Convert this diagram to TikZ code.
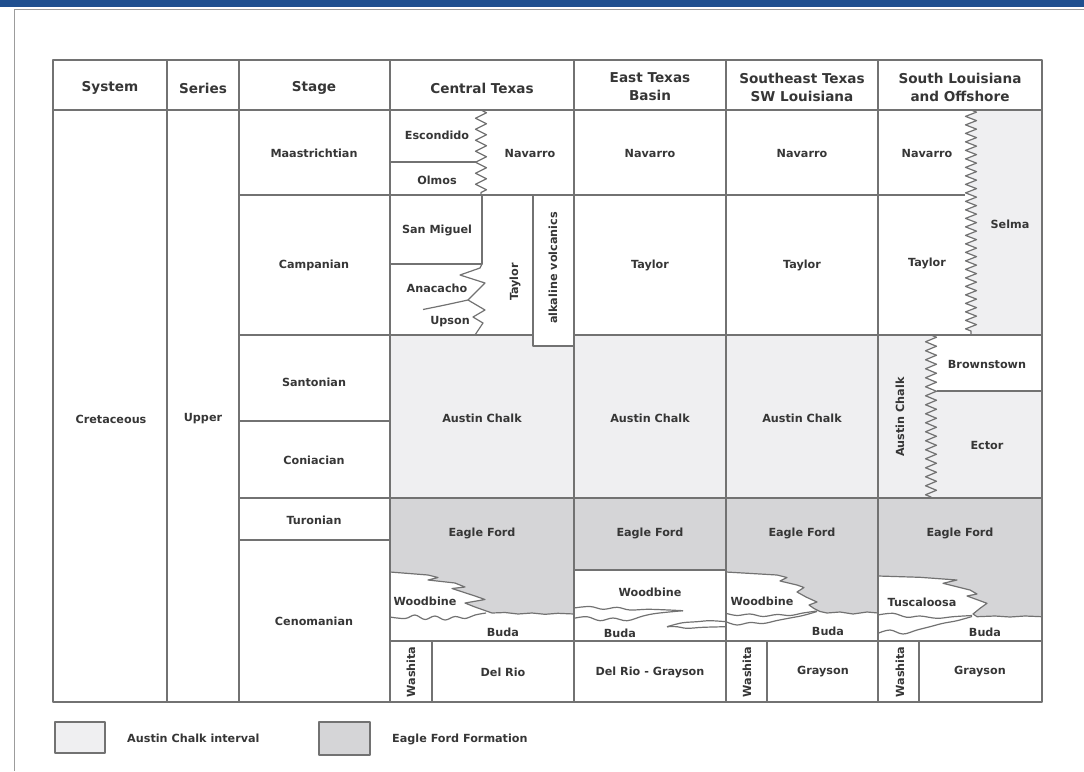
\documentclass[tikz,border=0pt]{standalone}
\usepackage{fontspec}
\setmainfont{DejaVu Sans}
\usetikzlibrary{decorations.pathmorphing}
\definecolor{chalk}{HTML}{EFEFF1}
\definecolor{eagle}{HTML}{D5D5D7}
\definecolor{rule}{HTML}{727272}
\definecolor{ink}{HTML}{363636}
\definecolor{banner}{HTML}{1F4F8F}
\newcommand\cellfont{\bfseries\fontsize{11.2}{13}\selectfont}
\newcommand\headfont{\bfseries\fontsize{13.6}{18}\selectfont}
\begin{document}
\begin{tikzpicture}[x=1pt,y=-1pt,
  rl/.style={draw=rule,line width=1.2pt,line join=round},
  zz/.style={decorate,decoration={zigzag,segment length=#1,amplitude=5.5}},
  zz/.default=10,
  lbl/.style={font=\cellfont,text=ink,inner sep=0pt},
  vlbl/.style={lbl,rotate=90},
  hdr/.style={font=\headfont,text=ink,align=center,inner sep=0pt}]
\useasboundingbox (0,0) rectangle (1084,771);
% page banner and frame
\fill[banner] (0,0) rectangle (1084,6.5);
\draw[rule!70,line width=1pt] (1084,9.5) -- (14,9.5) -- (14,771);

% Austin Chalk interval shading
\fill[chalk] (390,335) rectangle (1042,498);
\fill[white] (533,335) rectangle (574,346);
\fill[white] (1042,335) -- (931,335) decorate[decoration={zigzag,segment length=9,amplitude=5.5}]{-- (931,391)} -- (1042,391) -- cycle;
\fill[chalk] (1042,110) -- (971,110) decorate[decoration={zigzag,segment length=8.5,amplitude=6}]{-- (971,335)} -- (1042,335) -- cycle;

% Eagle Ford Formation shading
\draw[rl,fill=eagle] (574,498) -- (390,498) -- (390,572) -- (428,575) -- (438,577.5) -- (428,580) -- (455,583) -- (465,587) -- (452,588.5) -- (475,596) -- (485,599.5) -- (465,603) -- (475,607) -- (492,613) -- (505,612.5) -- (518,614) -- (532,613) -- (545,614.3) -- (558,613.3) -- (574,614) -- cycle;
\draw[rl,fill=eagle] (574,498) rectangle (726,570);
\draw[rl,fill=eagle] (878,498) -- (726,498) -- (726,572) -- (777,575) -- (787,577.5) -- (780,581) -- (797,585) -- (804,587.5) -- (797,592) -- (806,597) -- (817,602) -- (809,605) -- (814,608.5) -- (820,611.5) -- (827,613) -- (840,612) -- (853,614) -- (867,612) -- (878,613) -- cycle;
\draw[rl,fill=eagle] (1042,498) -- (878,498) -- (878,576) -- (920,577.3) -- (957,580) -- (943,583.3) -- (970,590) -- (977,594) -- (967,596) -- (987,603.3) -- (980,608.3) -- (973,614) -- (977,616.7) -- (995,616) -- (1010,617) -- (1025,616) -- (1042,616.7) -- cycle;

% unconformities below the Woodbine / Tuscaloosa
\draw[rl] plot[smooth,tension=0.6] coordinates {(390,617) (405,618.5) (415,615) (425,619.5) (435,616) (445,620) (455,616.5) (465,618.5) (475,615) (486,613)};
\draw[rl] plot[smooth,tension=0.6] coordinates {(574,608) (590,606.5) (603,609.3) (617,607.3) (630,610) (650,609.3) (683,610.7)};
\draw[rl] plot[smooth,tension=0.6] coordinates {(574,618.3) (587,616.7) (600,620.7) (613,618) (627,620.7) (643,616) (657,613.3) (683,610.7)};
\draw[rl] plot[smooth,tension=0.6] coordinates {(726,621.7) (710,620.7) (697,621.7) (683,622.7) (673,625) (667,626.7)};
\draw[rl] plot[smooth,tension=0.6] coordinates {(726,626.7) (703,627.3) (687,628.3) (677,626.7) (667,626.7)};
\draw[rl] plot[smooth,tension=0.6] coordinates {(726,613.3) (737,615.5) (750,614) (763,616.5) (777,614.5) (790,615.5) (803,613) (817,611)};
\draw[rl] plot[smooth,tension=0.6] coordinates {(726,621.7) (737,625) (750,622.5) (763,623.5) (777,620.5) (790,618) (803,615.5) (817,611.5)};
\draw[rl] plot[smooth,tension=0.6] coordinates {(878,615) (893,613.3) (907,617.3) (920,616) (937,618.3) (953,616.7) (972,615.5)};
\draw[rl] plot[smooth,tension=0.6] coordinates {(878,633.3) (890,630) (903,634) (917,630) (930,626.7) (943,623.3) (957,620.7) (972,616.5)};

% table grid
\draw[rl] (53,60) rectangle (1042,702);
\draw[rl] (53,110) -- (1042,110);
\foreach \x in {167,239,390,574,726,878} \draw[rl] (\x,60) -- (\x,702);
\foreach \y in {195,335,421,498,540} \draw[rl] (239,\y) -- (390,\y);
\draw[rl] (390,195) -- (965,195);
\draw[rl] (390,335) -- (533,335);
\draw[rl] (574,335) -- (1042,335);
\draw[rl] (390,498) -- (1042,498);
\draw[rl] (390,641) -- (1042,641);
\foreach \x in {432,767,919} \draw[rl] (\x,641) -- (\x,702);

% Central Texas internal contacts
\draw[rl] (390,162) -- (477,162);
\draw[rl] (482,195) -- (482,264) -- (390,264);
\draw[rl] (533,195) -- (533,346) -- (574,346);
\draw[rl,zz=11] (481,110) -- (481,195);
\draw[rl] (482,264) -- (480,268) -- (460,275) -- (485,283) -- (468,300) -- (485,310) -- (473,317) -- (483,323) -- (475,335);
\draw[rl] plot[smooth] coordinates {(423,309.5) (445,305) (468,300)};

% South Louisiana internal contacts
\draw[rl,zz=8.5] (971,110) -- (971,335);
\draw[rl,zz=9] (931,335) -- (931,498);
\draw[rl] (937,391) -- (1042,391);

% header
\node[hdr] (hSystem) at (110,88) {System};
\node[hdr] (hSeries) at (203,88) {Series};
\node[hdr] (hStage) at (314,88) {Stage};
\node[hdr] (hCT) at (482,88) {Central Texas};
\node[hdr] (hET) at (650,87) {East Texas\\Basin};
\node[hdr] (hSE) at (802,87) {Southeast Texas\\SW Louisiana};
\node[hdr] (hSL) at (960,87) {South Louisiana\\and Offshore};

% system, series, stages
\node[lbl] (sys) at (111,419) {Cretaceous};
\node[lbl] (ser) at (203,419) {Upper};
\node[lbl] (st1) at (314,153) {Maastrichtian};
\node[lbl] (st2) at (314,265) {Campanian};
\node[lbl] (st3) at (314,382) {Santonian};
\node[lbl] (st4) at (314,460) {Coniacian};
\node[lbl] (st5) at (314,520) {Turonian};
\node[lbl] (st6) at (314,621) {Cenomanian};

% Central Texas
\node[lbl] (ctEsc) at (437,135) {Escondido};
\node[lbl] (ctOlm) at (437,180) {Olmos};
\node[lbl] (ctNav) at (530,153) {Navarro};
\node[lbl] (ctSM) at (437,230) {San Miguel};
\node[lbl] (ctAna) at (437,288) {Anacacho};
\node[lbl] (ctUps) at (450,322) {Upson};
\node[vlbl] (ctTay) at (515,282) {Taylor};
\node[vlbl] (ctAlk) at (553,268) {alkaline volcanics};
\node[lbl] (ctAC) at (482,418) {Austin Chalk};
\node[lbl] (ctEF) at (482,533) {Eagle Ford};
\node[lbl] (ctWoo) at (425,601) {Woodbine};
\node[lbl] (ctBud) at (503,632) {Buda};
\node[vlbl] (ctWas) at (411,672) {Washita};
\node[lbl] (ctDR) at (503,672) {Del Rio};

% East Texas Basin
\node[lbl] (etNav) at (650,153) {Navarro};
\node[lbl] (etTay) at (650,265) {Taylor};
\node[lbl] (etAC) at (650,418) {Austin Chalk};
\node[lbl] (etEF) at (650,533) {Eagle Ford};
\node[lbl] (etWoo) at (650,592) {Woodbine};
\node[lbl] (etBud) at (620,633) {Buda};
\node[lbl] (etDRG) at (650,672) {Del Rio - Grayson};

% Southeast Texas / SW Louisiana
\node[lbl] (seNav) at (802,153) {Navarro};
\node[lbl] (seTay) at (802,265) {Taylor};
\node[lbl] (seAC) at (802,418) {Austin Chalk};
\node[lbl] (seEF) at (802,533) {Eagle Ford};
\node[lbl] (seWoo) at (762,601) {Woodbine};
\node[lbl] (seBud) at (828,631) {Buda};
\node[vlbl] (seWas) at (747,672) {Washita};
\node[lbl] (seGra) at (823,672) {Grayson};

% South Louisiana and Offshore
\node[lbl] (slNav) at (927,153) {Navarro};
\node[lbl] (slTay) at (927,263) {Taylor};
\node[lbl] (slSel) at (1010,224) {Selma};
\node[vlbl] (slAC) at (900,417) {Austin Chalk};
\node[lbl] (slBro) at (987,364) {Brownstown};
\node[lbl] (slEct) at (987,445) {Ector};
\node[lbl] (slEF) at (960,533) {Eagle Ford};
\node[lbl] (slTus) at (922,602) {Tuscaloosa};
\node[lbl] (slBud) at (985,632) {Buda};
\node[vlbl] (slWas) at (900,672) {Washita};
\node[lbl] (slGra) at (980,672) {Grayson};

% legend
\draw[rl,fill=chalk] (55,722) rectangle (105,753);
\node[lbl,anchor=west] (lgAC) at (127,738) {Austin Chalk interval};
\draw[rl,fill=eagle] (319,722) rectangle (370,755);
\node[lbl,anchor=west] (lgEF) at (392,739) {Eagle Ford Formation};
\end{tikzpicture}
\end{document}
